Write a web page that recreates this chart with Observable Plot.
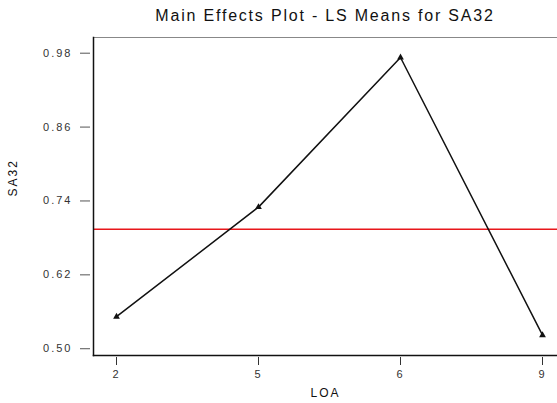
<!DOCTYPE html>
<html>
<head>
<meta charset="utf-8">
<script src="https://cdn.jsdelivr.net/npm/d3@7"></script>
<script src="https://cdn.jsdelivr.net/npm/@observablehq/plot@0.6"></script>
<style>
  html, body { margin: 0; padding: 0; background: #fff; }
  #title { width: 557px; height: 30px; box-sizing: border-box; padding-left: 93px; padding-top: 7px;
           text-align: center; font: 16px "Liberation Sans", Arial, sans-serif; letter-spacing: 1.8px; color: #111; }
  svg { display: block; }
</style>
</head>
<body>
<div id="title">Main Effects Plot - LS Means for SA32</div>
<div id="chart"></div>
<script>
const levels = ["2", "5", "6", "9"];
const means = [0.552, 0.730, 0.973, 0.522];
const grandMean = [0.694];
const yTicks = [0.50, 0.62, 0.74, 0.86, 0.98];
const yTickLabels = ["0.50", "0.62", "0.74", "0.86", "0.98"];

const data = levels.map((l, i) => ({LOA: l, SA32: means[i]}));

const chart = Plot.plot({
  width: 557,
  height: 373,
  marginLeft: 93,
  marginRight: 0,
  marginTop: 7,
  marginBottom: 48,
  style: {fontFamily: "'Liberation Sans', Arial, sans-serif", fontSize: "11px", letterSpacing: "2px", color: "#222", background: "#fff"},
  x: {type: "point", domain: levels, range: [115, 542], padding: 0},
  y: {domain: [0.489, 1.0055]},
  marks: [
    Plot.ruleY([1.0055], {stroke: "#888", strokeWidth: 1}),
    Plot.axisY({ticks: yTicks, tickFormat: (d, i) => yTickLabels[i], tickSize: 10, tickPadding: 8, dx: -3, label: null, stroke: "#555", fill: "#333"}),
    Plot.axisX({tickSize: 8, tickPadding: 5, dy: 2, label: null, stroke: "#333", fill: "#333"}),
    Plot.text(["SA32"], {frameAnchor: "left", dx: -80, rotate: -90, fontSize: 12, fill: "#111"}),
    Plot.text(["LOA"], {frameAnchor: "bottom", dy: 41, fontSize: 12, fill: "#111"}),
    Plot.ruleY(grandMean, {stroke: "#e8161b", strokeWidth: 1.5}),
    Plot.line(data, {x: "LOA", y: "SA32", stroke: "#111", strokeWidth: 1.5}),
    Plot.dot(data, {x: "LOA", y: "SA32", symbol: "triangle", r: 2.5, fill: "#111"}),
    Plot.frame({anchor: "left", stroke: "#111", strokeWidth: 1.5}),
    Plot.frame({anchor: "bottom", stroke: "#111", strokeWidth: 1.5})
  ]
});
document.getElementById("chart").appendChild(chart);
</script>
</body>
</html>
